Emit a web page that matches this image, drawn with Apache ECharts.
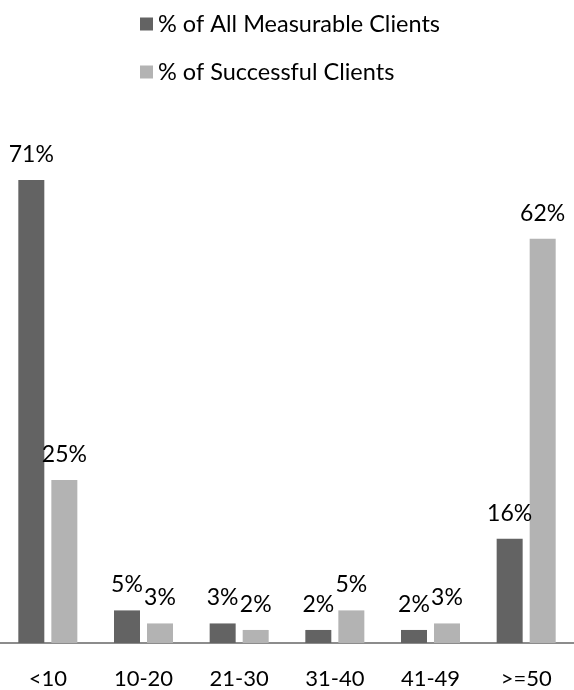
<!DOCTYPE html>
<html>
<head>
<meta charset="utf-8">
<script src="https://cdn.jsdelivr.net/npm/echarts@6/dist/echarts.min.js"></script>
<style>
  html, body { margin: 0; padding: 0; background: #fff; }
  #chart { width: 574px; height: 690px; }
</style>
</head>
<body>
<div id="chart"></div>
<script>
// Age-band categories along the x axis
const categories = ['<10', '10-20', '21-30', '31-40', '41-49', '>=50'];
// Share of clients per band, in percent
const allMeasurable = [71, 5, 3, 2, 2, 16];
const successful = [25, 3, 2, 5, 3, 62];
const seriesNames = ['% of All Measurable Clients', '% of Successful Clients'];

const FONT = 'Lato, "Open Sans", sans-serif';

const chart = echarts.init(document.getElementById('chart'), null, { renderer: 'canvas' });

const labelStyle = {
  show: true,
  position: 'top',
  distance: 14,
  formatter: '{c}%',
  color: '#000',
  fontFamily: FONT,
  fontSize: 23
};

chart.setOption({
  animation: false,
  backgroundColor: '#fff',
  legend: {
    orient: 'vertical',
    left: 135,
    top: 7,
    itemWidth: 13,
    itemHeight: 13,
    itemGap: 24,
    icon: 'rect',
    textStyle: { color: '#000', fontFamily: FONT, fontSize: 23.5, lineHeight: 24 },
    data: seriesNames
  },
  grid: { left: -2.5, width: 582, top: 154, bottom: 47, containLabel: false },
  xAxis: {
    type: 'category',
    data: categories,
    axisLine: { lineStyle: { color: '#8c8c8c', width: 2 } },
    axisTick: { show: false },
    axisLabel: { color: '#000', fontFamily: FONT, fontSize: 22, margin: 25 }
  },
  yAxis: {
    type: 'value',
    min: 0,
    max: 75,
    show: false,
    splitLine: { show: false }
  },
  series: [
    {
      name: seriesNames[0],
      type: 'bar',
      data: allMeasurable,
      barWidth: 26,
      barGap: '27%',
      itemStyle: { color: '#636363' },
      label: labelStyle
    },
    {
      name: seriesNames[1],
      type: 'bar',
      data: successful,
      barWidth: 26,
      itemStyle: { color: '#b3b3b3' },
      label: labelStyle
    }
  ]
});
</script>
</body>
</html>
